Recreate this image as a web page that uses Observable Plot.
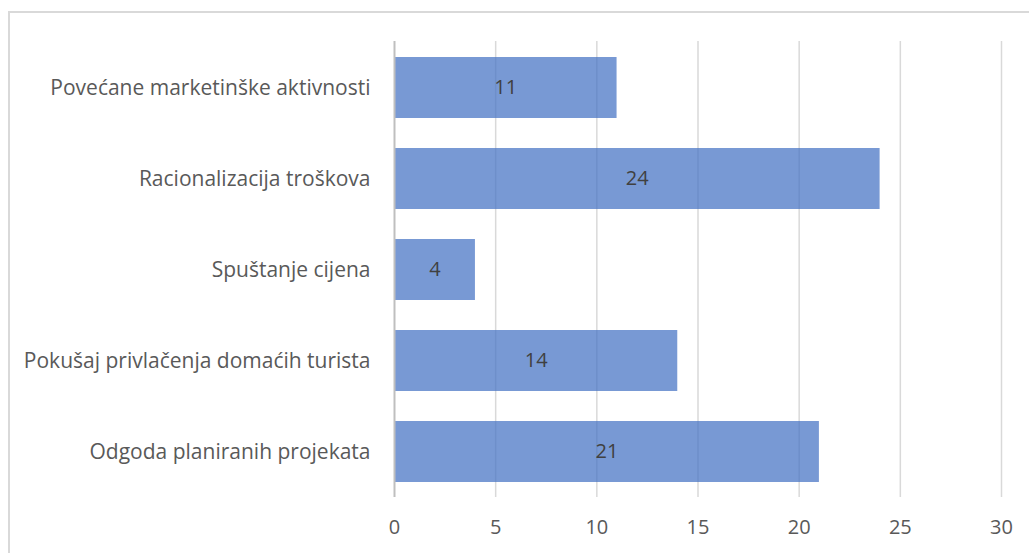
<!DOCTYPE html>
<html>
<head>
<meta charset="utf-8">
<script src="https://cdn.jsdelivr.net/npm/d3@7"></script>
<script src="https://cdn.jsdelivr.net/npm/@observablehq/plot@0.6"></script>
<style>
  html, body { margin: 0; padding: 0; background: #fff; }
  #wrap { position: relative; width: 1029px; height: 553px; overflow: hidden; }
  #frame { position: absolute; left: 8px; top: 11px; width: 1100px; height: 600px;
           border-left: 2px solid #d9d9d9; border-top: 2px solid #d9d9d9; box-sizing: border-box; }
  #chart { position: absolute; left: 0; top: 0; }
</style>
</head>
<body>
<div id="wrap"><div id="frame"></div><div id="chart"></div></div>
<script>
const categories = [
  "Povećane marketinške aktivnosti",
  "Racionalizacija troškova",
  "Spuštanje cijena",
  "Pokušaj privlačenja domaćih turista",
  "Odgoda planiranih projekata"
];
const values = [11, 24, 4, 14, 21];
const xTicks = [0, 5, 10, 15, 20, 25, 30];

const data = categories.map((c, i) => ({category: c, value: values[i]}));

const font = "'Open Sans', sans-serif";

const chart = Plot.plot({
  width: 1029,
  height: 553,
  marginLeft: 394,
  marginRight: 28,
  marginTop: 41,
  marginBottom: 56,
  style: {fontFamily: font, fontSize: "21px", color: "#595959", background: "transparent", overflow: "visible"},
  x: {domain: [0, 30], ticks: xTicks, tickSize: 0, tickPadding: 22, label: null},
  y: {domain: categories, paddingInner: 0.33, paddingOuter: 0.165, align: 0.5, tickSize: 0, tickPadding: 24, label: null},
  marks: [
    Plot.ruleX(xTicks.filter(d => d > 0), {stroke: "#d9d9d9", strokeWidth: 1.5, strokeOpacity: 1}),
    Plot.barX(data, {x: "value", y: "category", fill: "#4472c4", fillOpacity: 0.72}),
    Plot.ruleX([0], {stroke: "#bfbfbf", strokeWidth: 2}),
    Plot.text(data, {x: d => d.value / 2, y: "category", text: d => String(d.value),
      fill: "#404040", fontSize: 20, fontFamily: font})
  ]
});
chart.querySelectorAll("g[aria-label='y-axis tick label'] text").forEach(t => t.setAttribute("font-size", "21"));
chart.querySelectorAll("g[aria-label='x-axis tick label'] text").forEach(t => t.setAttribute("font-size", "20"));
document.getElementById("chart").appendChild(chart);
</script>
</body>
</html>
